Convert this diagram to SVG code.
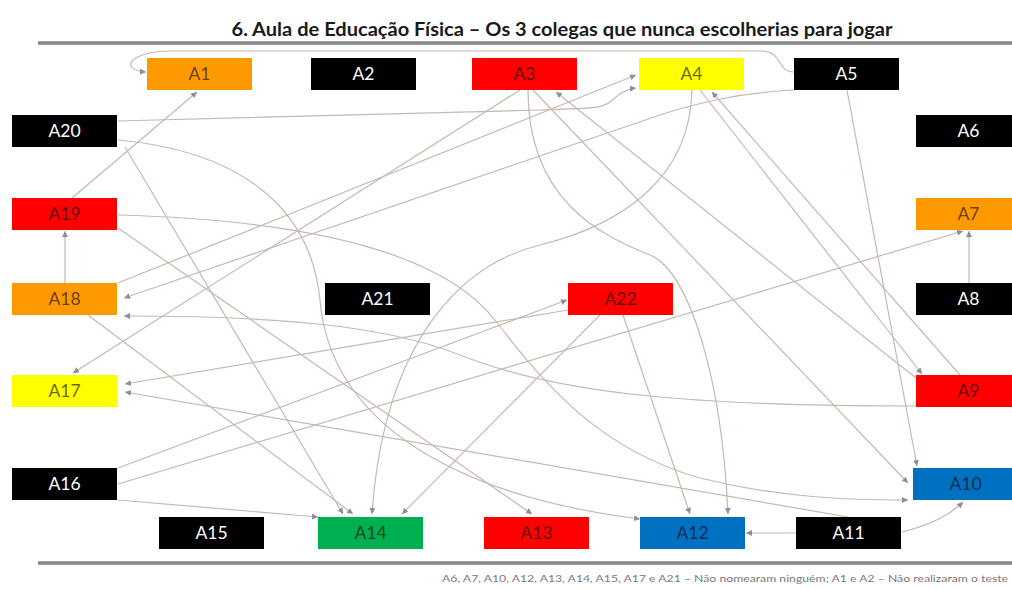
<svg xmlns="http://www.w3.org/2000/svg" width="1012" height="589" viewBox="0 0 1012 589">
<style>
.lbl{font-family:Lato,"Liberation Sans",sans-serif;font-size:17.5px;text-anchor:middle}
.w{fill:#ffffff}
.d{fill:#000000;fill-opacity:0.62}
.blk{fill:#000000}
.org{fill:#ff9900}
.red{fill:#ff0000}
.yel{fill:#ffff00}
.blu{fill:#0070c0}
.grn{fill:#00b050}
#connectors path{fill:none;stroke:#c6b8b2;stroke-width:1.2;marker-end:url(#ah)}
.sep{stroke:#858585;stroke-width:3.5}
</style>
<defs>
<marker id="ah" viewBox="0 0 6 6" refX="6" refY="3" markerWidth="6" markerHeight="6" markerUnits="userSpaceOnUse" orient="auto">
<path d="M0,0 L6,3 L0,6 z" fill="#8e8aa0"/>
</marker>
</defs>
<rect width="1012" height="589" fill="#ffffff"/>
<text x="562" y="36" font-family="Lato,'Liberation Sans',sans-serif" font-weight="bold" font-size="19" text-anchor="middle" fill="#1a1a1a" textLength="661" lengthAdjust="spacingAndGlyphs">6. Aula de Educação Física – Os 3 colegas que nunca escolherias para jogar</text>
<line class="sep" x1="38" y1="43" x2="1012" y2="43"/>
<line class="sep" x1="38" y1="563" x2="1012" y2="563"/>
<text x="442" y="582" font-family="Lato,'Liberation Sans',sans-serif" font-size="9.5" fill="#7a7a7a" textLength="566" lengthAdjust="spacingAndGlyphs">A6, A7, A10, A12, A13, A14, A15, A17 e A21 – Não nomearam ninguém; A1 e A2 – Não realizaram o teste</text>
<g id="connectors">
<path d="M794,72 C776,72 784,51 760,51 L170,51 C130,51 118,70 146,72"/>
<path d="M794,90 C740,93 700,102 660,115 L124,298"/>
<path d="M847,90 L917,466"/>
<path d="M72,198 L197,92"/>
<path d="M118,228 L532,514"/>
<path d="M118,215 C300,220 440,250 495,320 C545,385 600,450 700,478 C780,498 850,500 908,500"/>
<path d="M65,283 L65,231"/>
<path d="M118,283 L636,75"/>
<path d="M88,315 L353,514"/>
<path d="M118,121 L540,110 C590,108 600,109 610,102 C618,95 625,89 636,88"/>
<path d="M125,147 L343,514"/>
<path d="M118,140 C230,150 310,200 320,300 C330,420 450,495 640,519"/>
<path d="M520,90 L73,373"/>
<path d="M528,90 C528,200 600,235 650,255 C690,272 722,380 728,514"/>
<path d="M533,90 L908,483"/>
<path d="M692,90 C690,180 620,225 540,245 C470,262 385,330 372,514"/>
<path d="M700,90 L922,374"/>
<path d="M960,375 L712,92"/>
<path d="M916,378 L556,92"/>
<path d="M916,406 C700,406 560,395 460,355 C380,323 260,316 124,316"/>
<path d="M969,283 L969,231"/>
<path d="M796,533 L746,533"/>
<path d="M902,532 C930,525 950,515 963,502"/>
<path d="M848,517 L125,392"/>
<path d="M118,500 L318,517"/>
<path d="M118,468 L567,300"/>
<path d="M118,484 L963,231"/>
<path d="M600,315 L402,514"/>
<path d="M623,315 L690,514"/>
<path d="M568,310 L125,384"/>
</g>
<g id="A1"><rect class="org" x="147" y="58" width="105" height="32"/><text class="lbl d" x="199.5" y="80">A1</text></g>
<g id="A2"><rect class="blk" x="311" y="58" width="105" height="32"/><text class="lbl w" x="363.5" y="80">A2</text></g>
<g id="A3"><rect class="red" x="472" y="58" width="105" height="32"/><text class="lbl d" x="524.5" y="80">A3</text></g>
<g id="A4"><rect class="yel" x="639" y="58" width="105" height="32"/><text class="lbl d" x="691.5" y="80">A4</text></g>
<g id="A5"><rect class="blk" x="794" y="58" width="105" height="32"/><text class="lbl w" x="846.5" y="80">A5</text></g>
<g id="A6"><rect class="blk" x="916" y="115" width="105" height="32"/><text class="lbl w" x="968.5" y="137">A6</text></g>
<g id="A7"><rect class="org" x="916" y="198" width="105" height="32"/><text class="lbl d" x="968.5" y="220">A7</text></g>
<g id="A8"><rect class="blk" x="916" y="283" width="105" height="32"/><text class="lbl w" x="968.5" y="305">A8</text></g>
<g id="A9"><rect class="red" x="916" y="375" width="105" height="32"/><text class="lbl d" x="968.5" y="397">A9</text></g>
<g id="A10"><rect class="blu" x="913" y="468" width="105" height="32"/><text class="lbl d" x="965.5" y="490">A10</text></g>
<g id="A11"><rect class="blk" x="796" y="517" width="105" height="32"/><text class="lbl w" x="848.5" y="539">A11</text></g>
<g id="A12"><rect class="blu" x="640" y="517" width="105" height="32"/><text class="lbl d" x="692.5" y="539">A12</text></g>
<g id="A13"><rect class="red" x="484" y="517" width="105" height="32"/><text class="lbl d" x="536.5" y="539">A13</text></g>
<g id="A14"><rect class="grn" x="318" y="517" width="105" height="32"/><text class="lbl d" x="370.5" y="539">A14</text></g>
<g id="A15"><rect class="blk" x="159" y="517" width="105" height="32"/><text class="lbl w" x="211.5" y="539">A15</text></g>
<g id="A16"><rect class="blk" x="12" y="468" width="105" height="32"/><text class="lbl w" x="64.5" y="490">A16</text></g>
<g id="A17"><rect class="yel" x="12" y="375" width="105" height="32"/><text class="lbl d" x="64.5" y="397">A17</text></g>
<g id="A18"><rect class="org" x="12" y="283" width="105" height="32"/><text class="lbl d" x="64.5" y="305">A18</text></g>
<g id="A19"><rect class="red" x="12" y="198" width="105" height="32"/><text class="lbl d" x="64.5" y="220">A19</text></g>
<g id="A20"><rect class="blk" x="12" y="115" width="105" height="32"/><text class="lbl w" x="64.5" y="137">A20</text></g>
<g id="A21"><rect class="blk" x="325" y="283" width="105" height="32"/><text class="lbl w" x="377.5" y="305">A21</text></g>
<g id="A22"><rect class="red" x="568" y="283" width="105" height="32"/><text class="lbl d" x="620.5" y="305">A22</text></g>
</svg>
